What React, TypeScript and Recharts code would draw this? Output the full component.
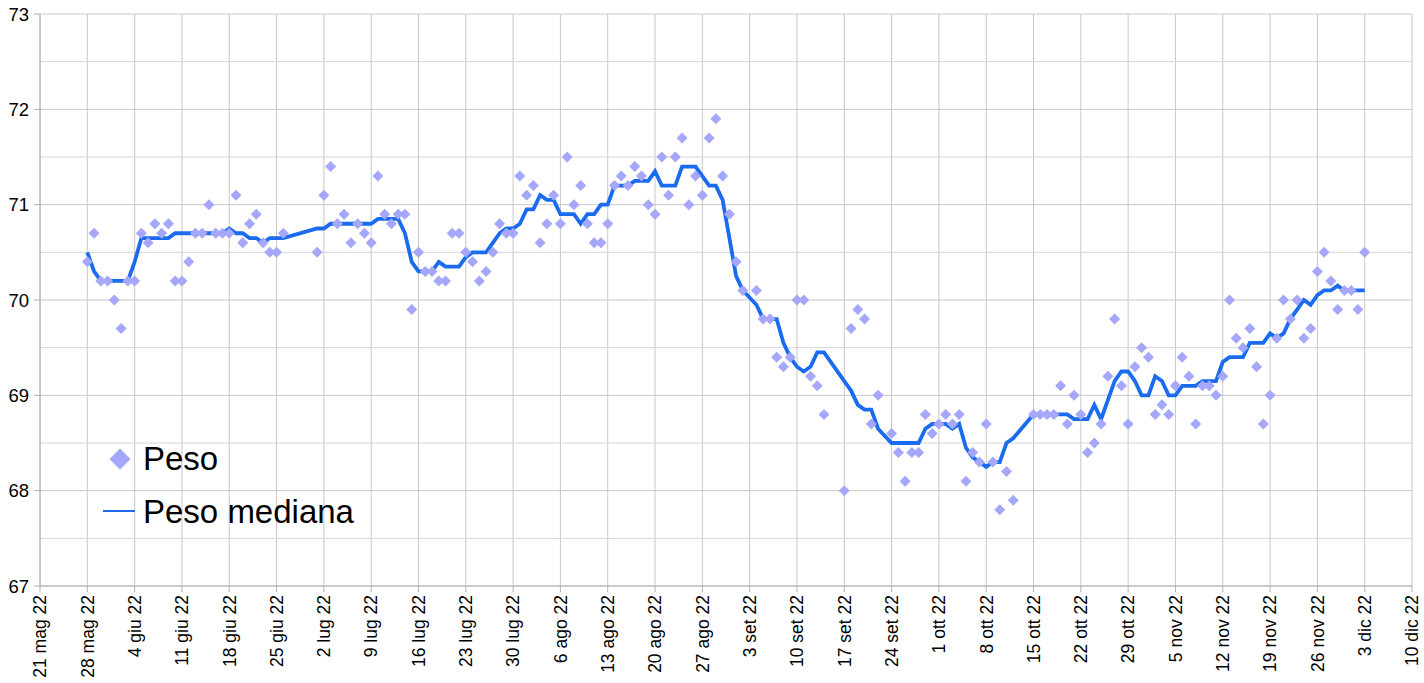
import React from "react";
import {
  ComposedChart,
  Line,
  Scatter,
  XAxis,
  YAxis,
  CartesianGrid,
  ReferenceLine,
  Legend,
} from "recharts";

// Day index counted from 21 May 2022 (day 0)
const days: number[] = [
  7, 8, 9, 10, 11, 12, 13, 14, 15, 16, 17, 18, 19, 20, 21, 22, 23, 24, 25, 26, 27, 28, 29, 30, 31, 32, 33, 34, 35, 36,
  41, 42, 43, 44, 45, 46, 47, 48, 49, 50, 51, 52, 53, 54, 55, 56, 57, 58, 59, 60,
  61, 62, 63, 64, 65, 66, 67, 68, 69, 70, 71, 72, 73, 74, 75, 76, 77, 78, 79, 80,
  81, 82, 83, 84, 85, 86, 87, 88, 89, 90, 91, 92, 93, 94, 95, 96, 97, 98, 99, 100,
  101, 102, 103, 104,
  106, 107, 108, 109, 110, 111, 112, 113, 114, 115, 116,
  119, 120, 121, 122, 123, 124,
  126, 127, 128, 129, 130, 131, 132, 133, 134, 135, 136, 137, 138, 139, 140, 141, 142, 143, 144,
  147, 148, 149, 150, 151, 152, 153, 154, 155, 156, 157, 158, 159, 160, 161, 162, 163, 164, 165, 166,
  167, 168, 169, 170, 171, 172, 173, 174, 175, 176, 177, 178, 179, 180, 181, 182, 183, 184, 185, 186,
  187, 188, 189, 190, 191, 192, 193, 194, 195, 196,
];

const peso: number[] = [
  70.4, 70.7, 70.2, 70.2, 70.0, 69.7, 70.2, 70.2, 70.7, 70.6, 70.8, 70.7, 70.8, 70.2, 70.2, 70.4, 70.7, 70.7, 71.0, 70.7, 70.7, 70.7, 71.1, 70.6, 70.8, 70.9, 70.6, 70.5, 70.5, 70.7,
  70.5, 71.1, 71.4, 70.8, 70.9, 70.6, 70.8, 70.7, 70.6, 71.3, 70.9, 70.8, 70.9, 70.9, 69.9, 70.5, 70.3, 70.3, 70.2, 70.2,
  70.7, 70.7, 70.5, 70.4, 70.2, 70.3, 70.5, 70.8, 70.7, 70.7, 71.3, 71.1, 71.2, 70.6, 70.8, 71.1, 70.8, 71.5, 71.0, 71.2,
  70.8, 70.6, 70.6, 70.8, 71.2, 71.3, 71.2, 71.4, 71.3, 71.0, 70.9, 71.5, 71.1, 71.5, 71.7, 71.0, 71.3, 71.1, 71.7, 71.9,
  71.3, 70.9, 70.4, 70.1,
  70.1, 69.8, 69.8, 69.4, 69.3, 69.4, 70.0, 70.0, 69.2, 69.1, 68.8,
  68.0, 69.7, 69.9, 69.8, 68.7, 69.0,
  68.6, 68.4, 68.1, 68.4, 68.4, 68.8, 68.6, 68.7, 68.8, 68.7, 68.8, 68.1, 68.4, 68.3, 68.7, 68.3, 67.8, 68.2, 67.9,
  68.8, 68.8, 68.8, 68.8, 69.1, 68.7, 69.0, 68.8, 68.4, 68.5, 68.7, 69.2, 69.8, 69.1, 68.7, 69.3, 69.5, 69.4, 68.8, 68.9,
  68.8, 69.1, 69.4, 69.2, 68.7, 69.1, 69.1, 69.0, 69.2, 70.0, 69.6, 69.5, 69.7, 69.3, 68.7, 69.0, 69.6, 70.0, 69.8, 70.0,
  69.6, 69.7, 70.3, 70.5, 70.2, 69.9, 70.1, 70.1, 69.9, 70.5,
];

const pesoMediana: number[] = [
  70.5, 70.3, 70.2, 70.2, 70.2, 70.2, 70.2, 70.4, 70.65, 70.65, 70.65, 70.65, 70.65, 70.7, 70.7, 70.7, 70.7, 70.7, 70.7, 70.7, 70.7, 70.75, 70.7, 70.7, 70.65, 70.65, 70.6, 70.65, 70.65, 70.65,
  70.75, 70.75, 70.8, 70.8, 70.8, 70.8, 70.8, 70.8, 70.8, 70.85, 70.85, 70.85, 70.85, 70.7, 70.4, 70.3, 70.3, 70.3, 70.4, 70.35,
  70.35, 70.35, 70.45, 70.5, 70.5, 70.5, 70.6, 70.7, 70.75, 70.75, 70.8, 70.95, 70.95, 71.1, 71.05, 71.05, 70.9, 70.9, 70.9, 70.8,
  70.9, 70.9, 71.0, 71.0, 71.2, 71.2, 71.2, 71.25, 71.25, 71.25, 71.35, 71.2, 71.2, 71.2, 71.4, 71.4, 71.4, 71.3, 71.2, 71.2,
  71.05, 70.65, 70.25, 70.1,
  69.95, 69.8, 69.8, 69.8, 69.55, 69.4, 69.3, 69.25, 69.3, 69.45, 69.45,
  69.15, 69.05, 68.9, 68.85, 68.85, 68.65,
  68.5, 68.5, 68.5, 68.5, 68.5, 68.65, 68.7, 68.7, 68.7, 68.65, 68.7, 68.45, 68.35, 68.3, 68.25, 68.3, 68.3, 68.5, 68.55,
  68.8, 68.8, 68.8, 68.8, 68.8, 68.8, 68.75, 68.75, 68.75, 68.9, 68.75, 68.95, 69.15, 69.25, 69.25, 69.15, 69.0, 69.0, 69.2, 69.15,
  69.0, 69.0, 69.1, 69.1, 69.1, 69.15, 69.15, 69.15, 69.35, 69.4, 69.4, 69.4, 69.55, 69.55, 69.55, 69.65, 69.6, 69.65, 69.8, 69.9,
  70.0, 69.95, 70.05, 70.1, 70.1, 70.15, 70.1, 70.1, 70.1, 70.1,
];

const xTickLabels: string[] = [
  "21 mag 22", "28 mag 22", "4 giu 22", "11 giu 22", "18 giu 22", "25 giu 22", "2 lug 22", "9 lug 22",
  "16 lug 22", "23 lug 22", "30 lug 22", "6 ago 22", "13 ago 22", "20 ago 22", "27 ago 22", "3 set 22",
  "10 set 22", "17 set 22", "24 set 22", "1 ott 22", "8 ott 22", "15 ott 22", "22 ott 22", "29 ott 22",
  "5 nov 22", "12 nov 22", "19 nov 22", "26 nov 22", "3 dic 22", "10 dic 22",
];
const xTicks: number[] = [
  0, 7, 14, 21, 28, 35, 42, 49, 56, 63, 70, 77, 84, 91, 98, 105, 112, 119, 126, 133, 140, 147, 154, 161, 168,
  175, 182, 189, 196, 203,
];
const yTicks: number[] = [67, 68, 69, 70, 71, 72, 73];
const yMinorLines: number[] = [67.5, 68.5, 69.5, 70.5, 71.5, 72.5];

const rows = days.map((d, i) => ({ day: d, peso: peso[i], mediana: pesoMediana[i] }));

const FONT = "'Liberation Sans', Arial, Helvetica, sans-serif";
const SCATTER_COLOR = "#a4a7fa";
const LINE_COLOR = "#1a6bee";
const GRID = "#c8c8c8";

const XTick = (props: any) => {
  const { x, y, payload } = props;
  const idx = xTicks.indexOf(payload.value);
  const label = idx >= 0 ? xTickLabels[idx] : "";
  return (
    <text
      x={0}
      y={0}
      dy="0.36em"
      transform={`translate(${x},${y + 1}) rotate(-90)`}
      textAnchor="end"
      fontSize={17.5}
      fontFamily={FONT}
      fill="#000"
    >
      {label}
    </text>
  );
};

const Diamond = (props: any) => {
  const { cx, cy } = props;
  if (cx == null || cy == null) return null;
  const r = 5.5;
  return (
    <polygon
      points={`${cx},${cy - r} ${cx + r},${cy} ${cx},${cy + r} ${cx - r},${cy}`}
      fill={SCATTER_COLOR}
    />
  );
};

const LegendContent = () => (
  <div style={{ fontFamily: FONT, color: "#000" }}>
    <div style={{ display: "flex", alignItems: "center", height: 53 }}>
      <svg width={40} height={30}>
        <polygon points="20,4.5 30.5,15 20,25.5 9.5,15" fill={SCATTER_COLOR} />
      </svg>
      <span style={{ fontSize: 33, marginLeft: 3, lineHeight: "53px" }}>Peso</span>
    </div>
    <div style={{ display: "flex", alignItems: "center", height: 53 }}>
      <svg width={40} height={30}>
        <line x1={3} y1={14} x2={35} y2={14} stroke={LINE_COLOR} strokeWidth={2} />
      </svg>
      <span style={{ fontSize: 33, marginLeft: 3, lineHeight: "53px" }}>Peso mediana</span>
    </div>
  </div>
);

export default function App() {
  return (
    <div style={{ position: "absolute", left: 0, top: 0, background: "#fff" }}>
      <ComposedChart
        width={1424}
        height={683}
        data={rows}
        margin={{ top: 14, right: 12, left: 0, bottom: 0 }}
      >
        <CartesianGrid stroke={GRID} strokeWidth={1} />
        {yMinorLines.map((v) => (
          <ReferenceLine key={v} y={v} stroke="#d6d6d6" strokeWidth={1} ifOverflow="extendDomain" />
        ))}
        <XAxis
          dataKey="day"
          type="number"
          domain={[0, 203]}
          ticks={xTicks}
          interval={0}
          height={97}
          tickSize={6}
          tickMargin={2}
          tick={<XTick />}
          axisLine={{ stroke: "#b0b0b0" }}
          tickLine={{ stroke: "#b0b0b0" }}
          allowDataOverflow
        />
        <YAxis
          type="number"
          domain={[67, 73]}
          ticks={yTicks}
          interval={0}
          width={40}
          tickSize={6}
          tickMargin={5}
          tick={{ fontSize: 18.5, fill: "#000", fontFamily: FONT }}
          axisLine={{ stroke: "#b0b0b0" }}
          tickLine={{ stroke: "#b0b0b0" }}
          allowDataOverflow
        />
        <Scatter
          dataKey="peso"
          fill={SCATTER_COLOR}
          shape={<Diamond />}
          isAnimationActive={false}
          legendType="diamond"
          name="Peso"
        />
        <Line
          dataKey="mediana"
          type="linear"
          stroke={LINE_COLOR}
          strokeWidth={3.8}
          dot={false}
          activeDot={false}
          isAnimationActive={false}
          name="Peso mediana"
        />
        <Legend
          layout="vertical"
          align="center"
          verticalAlign="middle"
          content={<LegendContent />}
          wrapperStyle={{ left: 100, top: 432, width: 340 }}
        />
      </ComposedChart>
    </div>
  );
}
